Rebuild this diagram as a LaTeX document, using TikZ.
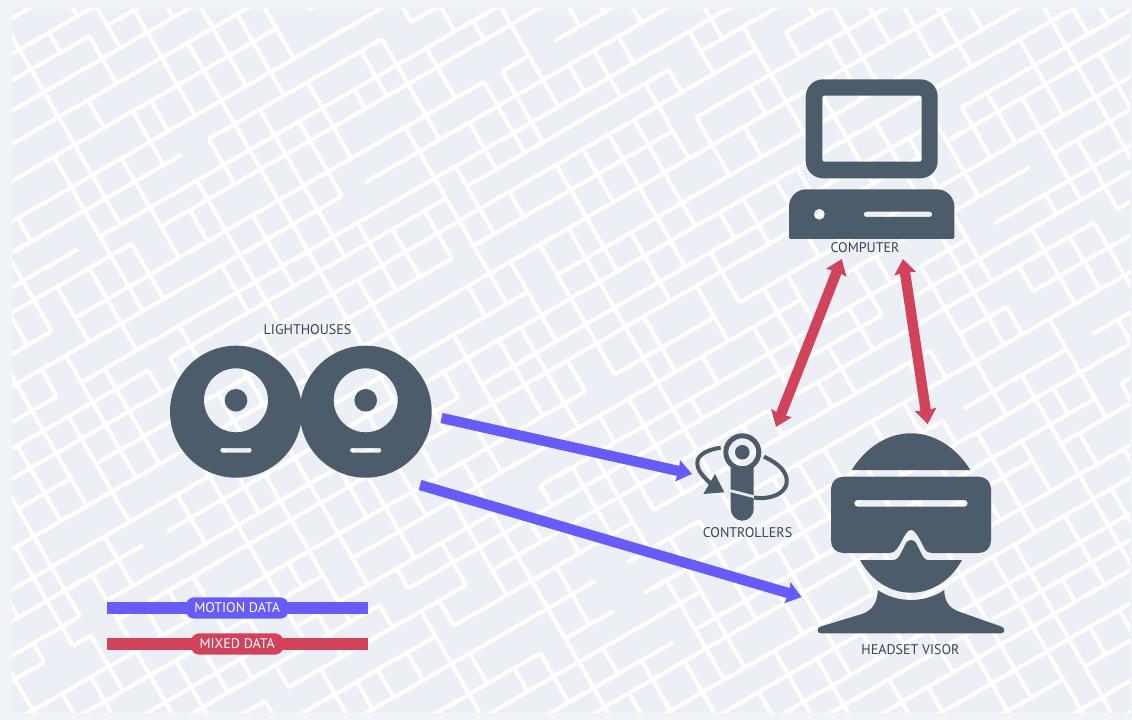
\documentclass[tikz,border=0pt]{standalone}
\usepackage{fontspec}
\setmainfont{PT Sans}
\usetikzlibrary{arrows.meta}
\definecolor{outerbg}{HTML}{F0F3F7}
\definecolor{innerbg}{HTML}{ECEFF6}
\definecolor{icondark}{HTML}{4C5C6B}
\definecolor{labeldark}{HTML}{36454F}
\definecolor{motionblue}{HTML}{675CFA}
\definecolor{mixedred}{HTML}{D1435B}
\tikzset{
	icon/.style={fill=icondark,draw=none,even odd rule},
	orbit/.style={draw=icondark,line width=3pt},
	caption/.style={text=labeldark,font=\fontsize{10.5}{12}\selectfont,inner sep=0pt},
	motionarrow/.style={draw=motionblue,line width=7.8pt,-{Stealth[length=11pt,width=16pt,inset=1pt]}},
	mixedarrow/.style={draw=mixedred,line width=7.8pt,{Stealth[length=11pt,width=16pt,inset=1pt]}-{Stealth[length=11pt,width=16pt,inset=1pt]}},
	pill/.style={rounded corners=6pt,text=white,font=\fontsize{10.5}{12}\selectfont,inner sep=0pt,minimum height=16pt},
}
\begin{document}
\begin{tikzpicture}[x=0.75pt,y=-0.75pt]
	\useasboundingbox (0,0) rectangle (1132,720);
	% background
	\fill[outerbg] (0,0) rectangle (1132,720);
	\fill[innerbg] (12,9) rectangle (1130,712);
	% street pattern
	\begin{scope}
		\clip (12,9) rectangle (1130,712);
		\begin{scope}[shift={(566,360)},rotate=30,white,line width=3pt]
			\pgfmathsetseed{11}
			\foreach \i in {-24,...,24}{
				\pgfmathsetmacro{\v}{\i*29+mod(\i*\i*7+210,11)}
				\pgfmathsetmacro{\w}{(\i+1)*29+mod((\i+1)*(\i+1)*7+210,11)}
				\foreach \j in {-27,...,27}{
					\pgfmathsetmacro{\u}{\j*29+mod(\j*\j*5+210,11)}
					\pgfmathsetmacro{\t}{(\j+1)*29+mod((\j+1)*(\j+1)*5+210,11)}
					\pgfmathsetmacro{\pa}{random(0,99)}
					\pgfmathsetmacro{\pb}{random(0,99)}
					\ifdim\pa pt<94pt \draw[line cap=square] (\u,\v) -- (\t,\v); \fi
					\ifdim\pb pt<62pt \draw[line cap=square] (\u,\v) -- (\u,\w); \fi
				}
			}
		\end{scope}
	\end{scope}
	% computer
	\fill[icon] [rounded corners=13pt] (805.7,79.3) rectangle (937.7,178.3)
		[rounded corners=1.5pt] (822.3,95.7) rectangle (921.7,161.7);
	\fill[icon] (789,239) [rounded corners=1.5pt] -- (789,239) [rounded corners=13pt] -- (789,189.3) -- (954.3,189.3) [rounded corners=1.5pt] -- (954.3,239) -- cycle
		[sharp corners] (819.3,214.3) circle (5.5)
		[rounded corners=2pt] (863.7,211.6) rectangle (932.3,217);
	% lighthouses
	\foreach \lx in {236,365.7}{
		\fill[icon] (\lx,411.7) circle (66) (\lx,400.3) circle (32) (\lx,400.3) circle (11.3)
			[rounded corners=1.6pt] (\lx-15.7,448) rectangle (\lx+15.7,452.6);
	}
	% controller
	\fill[icon] (742.3,452.3) circle (19) (742.3,452.3) circle (14) (742.3,452.3) circle (7.3);
	\fill[icon] (730.7,466) -- (730.7,509) .. controls (730.7,515.5) and (736,520.7) .. (742.2,520.7) .. controls (748.4,520.7) and (753.7,515.5) .. (753.7,509) -- (753.7,466) -- cycle;
	\draw[innerbg,line width=2pt] (729,490.3) -- (755,497);
	\draw[orbit] (720.7,447.7) .. controls (705,450) and (697,456) .. (697.3,463.3) .. controls (697.6,471) and (703,476) .. (711,484);
	\draw[orbit] (764,456.7) .. controls (778,463) and (788,472) .. (786.7,483) .. controls (785,494) and (770,500) .. (754,497.5);
	\fill[icon] (703.3,494) -- (724.3,492.3) -- (715,474) -- cycle;
	% visor
	\fill[icon] (851.7,470) .. controls (866,447) and (888,433.3) .. (911,433.3) .. controls (934,433.3) and (956,447) .. (970.3,470) -- cycle;
	\fill[icon] (889.3,553) [rounded corners=9pt] -- (831,553) -- (831,476.7) -- (991,476.7) -- (991,553) [sharp corners] -- (931.7,553)
		.. controls (925,553) and (924,547) .. (920.7,541) .. controls (917,534) and (914,530) .. (911,530)
		.. controls (908,530) and (905,534) .. (901.7,541) .. controls (898,547) and (896,553) .. (889.3,553) -- cycle
		[rounded corners=2.4pt] (854.3,500) rectangle (967.7,506.6);
	\fill[icon] (860,560) -- (893.3,560) .. controls (897,560) and (899,557) .. (901,553) -- (906,543)
		.. controls (908,539) and (914,539) .. (916,543) -- (921,553) .. controls (923,557) and (925,560) .. (928.3,560) -- (962,560)
		.. controls (950,582) and (930,592.7) .. (911,592.7) .. controls (892,592.7) and (872,582) .. (860,560) -- cycle;
	\fill[icon] (877.7,590) .. controls (888,597) and (900,600) .. (911,600) .. controls (922,600) and (934,597) .. (944.3,590)
		.. controls (944.3,600) and (948,608) .. (960,612) -- (1001.7,626.7) .. controls (1005,628) and (1005.5,633.3) .. (1001,633.3)
		-- (821,633.3) .. controls (816.5,633.3) and (817,628) .. (820,626.7) -- (862,614) .. controls (874,610) and (877.7,600) .. (877.7,590) -- cycle;
	% labels
	\node[caption] (computerlabel) at (865,247.5) {COMPUTER};
	\node[caption] (lighthouselabel) at (307.5,329.5) {LIGHTHOUSES};
	\node[caption] (controllerlabel) at (747.5,533) {CONTROLLERS};
	\node[caption] (visorlabel) at (910.5,649.5) {HEADSET VISOR};
	% data flows
	\coordinate (lighthouseup) at (441.5,418);
	\coordinate (controllerin) at (692,474);
	\coordinate (lighthousedown) at (420,485);
	\coordinate (visorin) at (801.7,597);
	\coordinate (controllerout) at (776,427);
	\coordinate (computerleft) at (841.7,259);
	\coordinate (computerright) at (903,259);
	\coordinate (visorout) at (927.7,424);
	\draw[motionarrow] (lighthouseup) -- (controllerin);
	\draw[motionarrow] (lighthousedown) -- (visorin);
	\draw[mixedarrow] (controllerout) -- (computerleft);
	\draw[mixedarrow] (computerright) -- (visorout);
	% legend
	\coordinate (motionstart) at (107.3,608);
	\coordinate (motionend) at (367.7,608);
	\coordinate (mixedstart) at (107.3,644);
	\coordinate (mixedend) at (367.7,644);
	\draw[motionblue,line width=8.8pt] (motionstart) -- (motionend);
	\draw[mixedred,line width=8.8pt] (mixedstart) -- (mixedend);
	\node[pill,fill=motionblue,minimum width=76.7pt] (motionlabel) at (237.2,608) {MOTION DATA};
	\node[pill,fill=mixedred,minimum width=69pt] (mixedlabel) at (237.2,644) {MIXED DATA};
\end{tikzpicture}
\end{document}
